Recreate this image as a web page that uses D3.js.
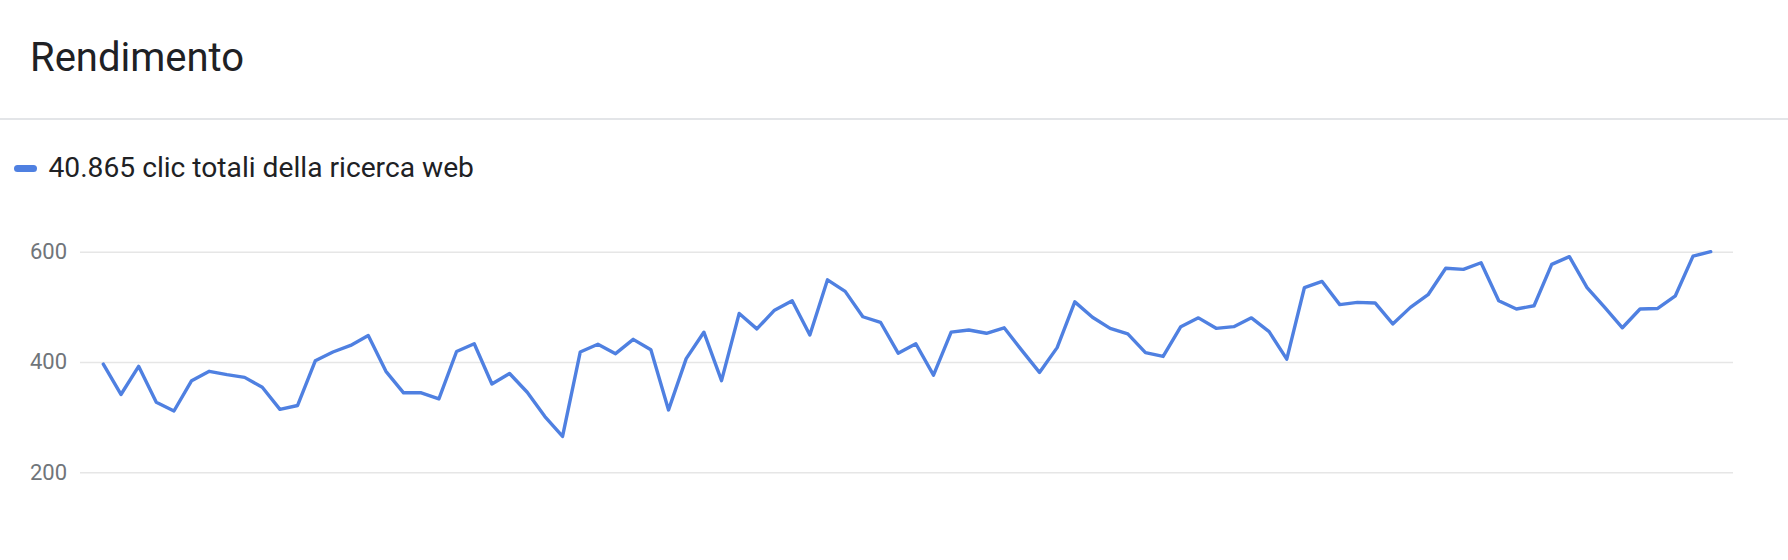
<!DOCTYPE html>
<html>
<head>
<meta charset="utf-8">
<script src="https://cdn.jsdelivr.net/npm/d3@7"></script>
<style>
  body { margin: 0; background: #fff; font-family: Roboto, "Noto Sans", sans-serif; }
</style>
</head>
<body>
<div id="chart"></div>
<script>
// daily clicks
var clicks = [396, 341, 392, 327, 311, 366, 383, 377, 372, 354,
  314, 321, 402, 418, 430, 448, 383, 344, 344, 333,
  419, 433, 360, 379, 345, 301, 265, 418, 432, 415,
  441, 422, 313, 406, 454, 366, 488, 460, 494, 511,
  449, 549, 528, 482, 472, 416, 433, 376, 454, 458,
  452, 462, 421, 381, 426, 509, 481, 461, 451, 417,
  410, 464, 480, 461, 464, 480, 455, 405, 535, 546,
  504, 508, 507, 469, 499, 522, 570, 568, 580, 511,
  496, 502, 577, 591, 535, 499, 462, 496, 497, 520,
  592, 600];
var yTicks = [200, 400, 600];
var title = "Rendimento";
var legendLabel = "40.865 clic totali della ricerca web";

var W = 1788, H = 560;
var blue = "#4f80e1";

var svg = d3.select("#chart")
  .append("svg")
    .attr("width", W)
    .attr("height", H);

// header
svg.append("text")
  .attr("x", 30)
  .attr("y", 71)
  .attr("font-size", 40)
  .attr("fill", "#202124")
  .text(title);

svg.append("line")
  .attr("x1", 0).attr("x2", W)
  .attr("y1", 119).attr("y2", 119)
  .attr("stroke", "#dadce0")
  .attr("stroke-width", 1.5);

// legend
svg.append("rect")
  .attr("x", 14).attr("y", 165)
  .attr("width", 23).attr("height", 7)
  .attr("rx", 3.5)
  .attr("fill", blue);

svg.append("text")
  .attr("x", 48.5)
  .attr("y", 177)
  .attr("font-size", 28.2)
  .attr("fill", "#202124")
  .text(legendLabel);

// scales
var x = d3.scaleLinear()
  .domain([0, clicks.length - 1])
  .range([103.3, 1710.7]);

var y = d3.scaleLinear()
  .domain([200, 600])
  .range([472.2, 251.7]);

// gridlines + labels
var yAxis = svg.append("g")
  .attr("transform", "translate(80,0)")
  .call(d3.axisLeft(y).tickValues(yTicks).tickSize(-(1733 - 80)).tickPadding(13));

yAxis.select(".domain").remove();
yAxis.selectAll(".tick line")
  .attr("stroke", "#e6e6e6")
  .attr("stroke-width", 1.5);
yAxis.selectAll(".tick text")
  .attr("font-family", "Roboto, sans-serif")
  .attr("font-size", 22)
  .attr("fill", "#70757a");

// line
var line = d3.line()
  .x(function(d, i) { return x(i); })
  .y(function(d) { return y(d); });

svg.append("path")
  .datum(clicks)
  .attr("fill", "none")
  .attr("stroke", blue)
  .attr("stroke-width", 3.4)
  .attr("stroke-linejoin", "round")
  .attr("stroke-linecap", "round")
  .attr("d", line);
</script>
</body>
</html>
